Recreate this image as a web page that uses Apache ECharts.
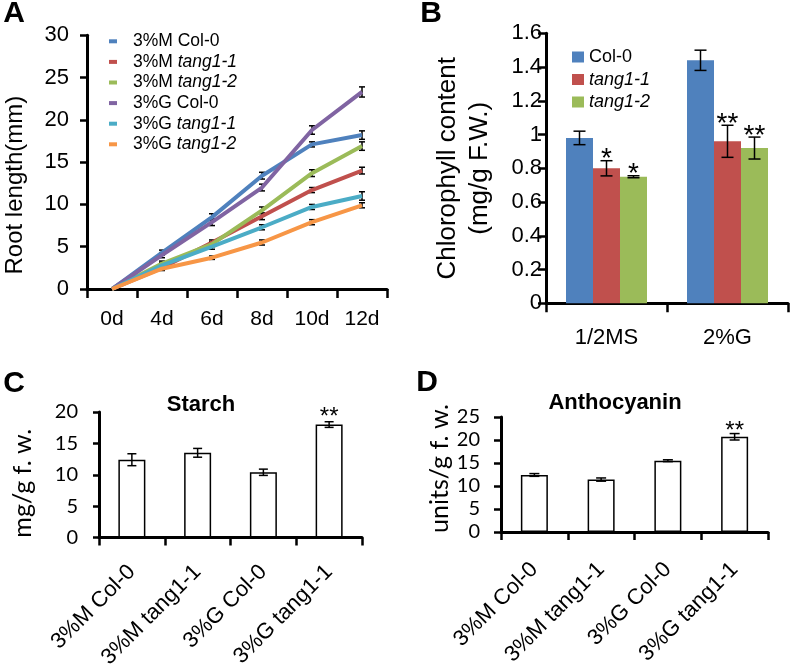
<!DOCTYPE html>
<html><head><meta charset="utf-8">
<script src="https://cdn.jsdelivr.net/npm/echarts@6/dist/echarts.min.js"></script>
<style>html,body{margin:0;padding:0;background:#fff}#c{width:793px;height:671px}</style>
</head><body><div id="c"></div>
<script>
// ---------- Panel A: root length ----------
const daysA = ['0d', '4d', '6d', '8d', '10d', '12d'];
const namesA = ['3%M Col-0', '3%M tang1-1', '3%M tang1-2', '3%G Col-0', '3%G tang1-1', '3%G tang1-2'];
const mCol0 = [0, 4.3, 8.5, 13.4, 17.1, 18.2];
const mCol0Err = [0, 0.3, 0.4, 0.4, 0.3, 0.5];
const mTang11 = [0, 2.5, 5.5, 8.6, 11.7, 14.0];
const mTang11Err = [0, 0.3, 0.3, 0.4, 0.3, 0.4];
const mTang12 = [0, 3.0, 5.3, 9.3, 13.7, 16.9];
const mTang12Err = [0, 0.3, 0.3, 0.4, 0.4, 0.5];
const gCol0 = [0, 4.0, 7.9, 12.0, 18.8, 23.3];
const gCol0Err = [0, 0.3, 0.4, 0.4, 0.5, 0.6];
const gTang11 = [0, 2.8, 5.0, 7.3, 9.7, 11.0];
const gTang11Err = [0, 0.3, 0.3, 0.3, 0.3, 0.5];
const gTang12 = [0, 2.4, 3.7, 5.5, 7.9, 9.9];
const gTang12Err = [0, 0.2, 0.2, 0.3, 0.3, 0.3];

// ---------- Panel B: chlorophyll ----------
const groupsB = ['1/2MS', '2%G'];
const namesB = ['Col-0', 'tang1-1', 'tang1-2'];
const col0B = [0.98, 1.44];
const col0BErr = [0.04, 0.06];
const tang11B = [0.80, 0.96];
const tang11BErr = [0.045, 0.095];
const tang12B = [0.75, 0.92];
const tang12BErr = [0.006, 0.065];
const col0BStars = ['', ''];
const tang11BStars = ['*', '**'];
const tang12BStars = ['*', '**'];

// ---------- Panels C & D ----------
const catsCD = ['3%M Col-0', '3%M tang1-1', '3%G Col-0', '3%G tang1-1'];
const starchVals = [12.4, 13.5, 10.4, 18.0];
const starchErr = [0.95, 0.7, 0.5, 0.45];
const starchStars = ['', '', '', '**'];
const anthoVals = [12.4, 11.4, 15.5, 20.7];
const anthoErr = [0.3, 0.35, 0.2, 0.7];
const anthoStars = ['', '', '', '**'];

const colorsA = ['#4F81BD', '#C0504D', '#9BBB59', '#8064A2', '#4BACC6', '#F79646'];
const colorsB = ['#4F81BD', '#C0504D', '#9BBB59'];
const AR = '"Liberation Sans", Arial, sans-serif';
const CAL = 'Lato, "Open Sans", sans-serif';
const BAR_W = 27;

function errSeries(xi, yi, vals, errs, stars, offset, capW, starSize, starDy, z) {
  return {
    type: 'custom', xAxisIndex: xi, yAxisIndex: yi, z: z, silent: true,
    data: vals.map((v, i) => [i, v, errs[i]]),
    renderItem: function (params, api) {
      const i = api.value(0), v = api.value(1), e = api.value(2);
      const hi = api.coord([i, v + e]), lo = api.coord([i, v - e]);
      const x = hi[0] + offset;
      const st = { stroke: '#000', lineWidth: 1.5 };
      const ch = [
        { type: 'line', shape: { x1: x, y1: hi[1], x2: x, y2: lo[1] }, style: st },
        { type: 'line', shape: { x1: x - capW / 2, y1: hi[1], x2: x + capW / 2, y2: hi[1] }, style: st },
        { type: 'line', shape: { x1: x - capW / 2, y1: lo[1], x2: x + capW / 2, y2: lo[1] }, style: st }
      ];
      const s = stars ? stars[params.dataIndex] : '';
      if (s) {
        ch.push({ type: 'text', style: { text: s, x: x, y: hi[1] + starDy, align: 'center', verticalAlign: 'middle',
          font: starSize + 'px ' + AR, fill: '#000' } });
      }
      return { type: 'group', children: ch };
    }
  };
}

const axLine = { lineStyle: { color: '#000', width: 3 } };
function tick(len) { return { show: true, length: len, lineStyle: { color: '#000', width: 2.5 } }; }

const seriesA = [mCol0, mTang11, mTang12, gCol0, gTang11, gTang12];
const errsA = [mCol0Err, mTang11Err, mTang12Err, gCol0Err, gTang11Err, gTang12Err];

const series = [];
seriesA.forEach((d, k) => {
  series.push({ type: 'line', name: namesA[k], xAxisIndex: 0, yAxisIndex: 0, data: d, symbol: 'none',
    lineStyle: { width: 4, color: colorsA[k] }, itemStyle: { color: colorsA[k] }, z: 3 });
});
errsA.forEach((e, k) => series.push(errSeries(0, 0, seriesA[k], e, null, 0, 6, 0, 0, 2)));

const barsB = [col0B, tang11B, tang12B];
const errsB = [col0BErr, tang11BErr, tang12BErr];
const starsB = [col0BStars, tang11BStars, tang12BStars];
barsB.forEach((d, k) => {
  series.push({ type: 'bar', name: namesB[k], xAxisIndex: 1, yAxisIndex: 1, data: d, barWidth: BAR_W, barGap: '0%',
    itemStyle: { color: colorsB[k] } });
});
barsB.forEach((d, k) => series.push(errSeries(1, 1, d, errsB[k], starsB[k], (k - 1) * BAR_W, 12, 28, -1, 5)));

series.push({ type: 'bar', xAxisIndex: 2, yAxisIndex: 2, data: starchVals, barWidth: BAR_W,
  itemStyle: { color: '#fff', borderColor: '#000', borderWidth: 1.5 } });
series.push(errSeries(2, 2, starchVals, starchErr, starchStars, 0, 9, 24, -4, 5));
series.push({ type: 'bar', xAxisIndex: 3, yAxisIndex: 3, data: anthoVals, barWidth: BAR_W,
  itemStyle: { color: '#fff', borderColor: '#000', borderWidth: 1.5 } });
series.push(errSeries(3, 3, anthoVals, anthoErr, anthoStars, 0, 10, 24, -2.5, 5));

function fmtA(name) {
  const p = name.indexOf(' ');
  const a = name.slice(0, p), b = name.slice(p + 1);
  return b.startsWith('tang') ? '{n|' + a + ' }{i|' + b + '}' : '{n|' + name + '}';
}

const option = {
  backgroundColor: '#fff',
  animation: false,
  grid: [
    { left: 87, top: 35.3, width: 300, height: 253.7 },
    { left: 546, top: 33.3, width: 242, height: 270 },
    { left: 99, top: 412, width: 263, height: 126 },
    { left: 501, top: 417, width: 267, height: 115 }
  ],
  legend: [
    { orient: 'vertical', left: 104, top: 26, itemWidth: 8, itemHeight: 4, itemGap: 0, icon: 'rect',
      selectedMode: false, data: namesA, formatter: fmtA,
      textStyle: { color: '#000', fontFamily: AR, fontSize: 17.5, lineHeight: 20.6, padding: [0, 0, 0, 11],
        rich: { n: { fontFamily: AR, fontSize: 17.5, lineHeight: 20.6, color: '#000' },
                i: { fontFamily: AR, fontSize: 17.5, lineHeight: 20.6, fontStyle: 'italic', color: '#000' } } } },
    { orient: 'vertical', left: 567, top: 41, itemWidth: 12, itemHeight: 11, itemGap: 0.5, icon: 'rect',
      selectedMode: false, data: namesB,
      formatter: n => n === 'Col-0' ? '{n|' + n + '}' : '{i|' + n + '}',
      textStyle: { color: '#000', fontFamily: AR, fontSize: 18, lineHeight: 22,
        rich: { n: { fontFamily: AR, fontSize: 18, lineHeight: 22, color: '#000' },
                i: { fontFamily: AR, fontSize: 18, lineHeight: 22, fontStyle: 'italic', color: '#000' } } } }
  ],
  xAxis: [
    { type: 'category', gridIndex: 0, data: daysA, axisLine: axLine, axisTick: tick(9),
      axisLabel: { color: '#000', fontFamily: AR, fontSize: 21, margin: 20 } },
    { type: 'category', gridIndex: 1, data: groupsB, axisLine: axLine, axisTick: tick(9),
      axisLabel: { color: '#000', fontFamily: AR, fontSize: 22, margin: 24 } },
    { type: 'category', gridIndex: 2, data: catsCD, axisLine: axLine, axisTick: tick(8),
      axisLabel: { color: '#000', fontFamily: AR, fontSize: 22, margin: 31, rotate: 45, interval: 0 } },
    { type: 'category', gridIndex: 3, data: catsCD, axisLine: axLine, axisTick: tick(8),
      axisLabel: { color: '#000', fontFamily: AR, fontSize: 22, margin: 34, rotate: 45, interval: 0 } }
  ],
  yAxis: [
    { type: 'value', gridIndex: 0, min: 0, max: 30, interval: 5, axisLine: { show: true, ...axLine }, axisTick: tick(7),
      splitLine: { show: false }, axisLabel: { color: '#000', fontFamily: AR, fontSize: 22, margin: 18 },
      name: 'Root length(mm)', nameLocation: 'middle', nameGap: 60,
      nameTextStyle: { color: '#000', fontFamily: AR, fontSize: 24, padding: [0, 46, 0, 0] } },
    { type: 'value', gridIndex: 1, min: 0, max: 1.6, interval: 0.2, axisLine: { show: true, ...axLine }, axisTick: tick(8),
      splitLine: { show: false }, axisLabel: { color: '#000', fontFamily: AR, fontSize: 22, margin: 4 },
      name: 'Chlorophyll content\n(mg/g F.W.)', nameLocation: 'middle', nameGap: 50,
      nameTextStyle: { color: '#000', fontFamily: AR, fontSize: 26, lineHeight: 32 } },
    { type: 'value', gridIndex: 2, min: 0, max: 20, interval: 5, axisLine: { show: true, ...axLine }, axisTick: tick(6),
      splitLine: { show: false }, axisLabel: { color: '#000', fontFamily: CAL, fontSize: 20, margin: 21 },
      name: 'mg/g f. w.', nameLocation: 'middle', nameGap: 64,
      nameTextStyle: { color: '#000', fontFamily: CAL, fontSize: 25, padding: [0, 17, 0, 0] } },
    { type: 'value', gridIndex: 3, min: 0, max: 25, interval: 5, axisLine: { show: true, ...axLine }, axisTick: tick(7),
      splitLine: { show: false }, axisLabel: { color: '#000', fontFamily: CAL, fontSize: 20, margin: 21 },
      name: 'units/g f. w.', nameLocation: 'middle', nameGap: 45,
      nameTextStyle: { color: '#000', fontFamily: CAL, fontSize: 25, padding: [0, 0, 0, 12] } }
  ],
  graphic: [
    { type: 'text', x: 14, y: 14, style: { text: 'A', font: 'bold 30px ' + AR, align: 'center', verticalAlign: 'middle', fill: '#000' } },
    { type: 'text', x: 431, y: 14, style: { text: 'B', font: 'bold 30px ' + AR, align: 'center', verticalAlign: 'middle', fill: '#000' } },
    { type: 'text', x: 14, y: 384, style: { text: 'C', font: 'bold 30px ' + AR, align: 'center', verticalAlign: 'middle', fill: '#000' } },
    { type: 'text', x: 427, y: 383, style: { text: 'D', font: 'bold 30px ' + AR, align: 'center', verticalAlign: 'middle', fill: '#000' } },
    { type: 'text', x: 201, y: 405, style: { text: 'Starch', font: 'bold 22px ' + AR, align: 'center', verticalAlign: 'middle', fill: '#000' } },
    { type: 'text', x: 615, y: 403, style: { text: 'Anthocyanin', font: 'bold 22px ' + AR, align: 'center', verticalAlign: 'middle', fill: '#000' } }
  ],
  series: series
};

const chart = echarts.init(document.getElementById('c'), null, { renderer: 'canvas' });
chart.setOption(option);
</script>
</body></html>
